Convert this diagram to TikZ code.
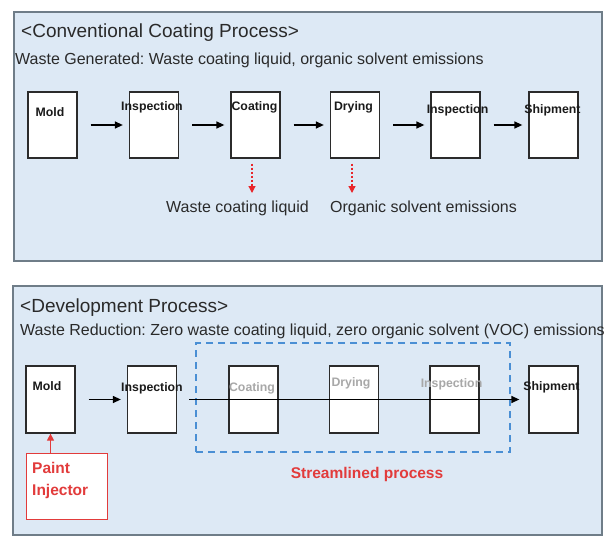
\documentclass[tikz,border=0pt]{standalone}
\usepackage{fontspec}
\setmainfont{Liberation Sans}
\usetikzlibrary{arrows.meta}
\frenchspacing
\definecolor{panelfill}{HTML}{DDE9F5}
\definecolor{panelborder}{HTML}{6F7D88}
\definecolor{boxborder}{HTML}{2B2B2B}
\definecolor{txtdark}{HTML}{2A2A2A}
\definecolor{lbldark}{HTML}{1A1A1A}
\definecolor{lblgray}{HTML}{A8A8A8}
\definecolor{wred}{HTML}{E8262B}
\definecolor{sred}{HTML}{E23B3B}
\definecolor{sblue}{HTML}{4A8FD4}
\begin{document}
\frenchspacing
\begin{tikzpicture}[x=1pt,y=-1pt,
  panel/.style={draw=panelborder, line width=1.8pt, fill=panelfill},
  titletext/.style={font=\fontsize{19}{22}\selectfont, text=txtdark, inner sep=0, anchor=west},
  subtext/.style={font=\fontsize{16}{19}\selectfont, text=txtdark, inner sep=0, anchor=west},
  stepbox/.style={draw=boxborder, line width=1.3pt, fill=white, minimum width=49pt, minimum height=66pt, inner sep=0},
  steplbl/.style={font=\fontsize{12.3}{14}\selectfont\bfseries, text=lbldark, inner sep=0},
  greylbl/.style={font=\fontsize{12.3}{14}\selectfont\bfseries, text=lblgray, inner sep=0},
  flowarr/.style={-{Triangle[length=8pt,width=7pt]}, line width=1.3pt, black},
  wastearr/.style={-{Triangle[length=7pt,width=7pt]}, line width=1.2pt, wred, dash pattern=on 2.5pt off 1.5pt},
  wastelbl/.style={font=\fontsize{16}{19}\selectfont, text=txtdark, inner sep=0},
  redlbl/.style={font=\fontsize{15.5}{22}\selectfont\bfseries, text=sred, inner sep=0}
]
\useasboundingbox (0,0) rectangle (612,548);
\fill[white] (0,0) rectangle (612,548);

% ---------- Top panel ----------
\draw[panel] (14,12) rectangle (602,261);
\node[titletext] (t1) at (21,33) {<Conventional Coating Process>};
\node[subtext] (s1) at (15,60) {Waste Generated: Waste coating liquid, organic solvent emissions};

\node[stepbox] (a1) at (52.5,125) {};
\node[stepbox] (a2) at (154,125) {};
\node[stepbox] (a3) at (255.5,125) {};
\node[stepbox] (a4) at (355,125) {};
\node[stepbox] (a5) at (455.5,125) {};
\node[stepbox] (a6) at (553.5,125) {};

\node[steplbl] (la1) at (50,112) {Mold};
\node[steplbl] (la2) at (152,107) {Inspection};
\node[steplbl] (la3) at (254.5,107) {Coating};
\node[steplbl] (la4) at (353.5,107) {Drying};
\node[steplbl] (la5) at (457.5,110) {Inspection};
\node[steplbl] (la6) at (552.5,110) {Shipment};

\draw[flowarr] ([xshift=13pt]a1.east) -- ([xshift=-6pt]a2.west);
\draw[flowarr] ([xshift=13pt]a2.east) -- ([xshift=-6pt]a3.west);
\draw[flowarr] ([xshift=13pt]a3.east) -- ([xshift=-6pt]a4.west);
\draw[flowarr] ([xshift=13pt]a4.east) -- ([xshift=-6pt]a5.west);
\draw[flowarr] ([xshift=13pt]a5.east) -- ([xshift=-6pt]a6.west);

\node[wastelbl] (w1) at (237.5,208) {Waste coating liquid};
\node[wastelbl] (w2) at (423.5,208) {Organic solvent emissions};
\coordinate (w1end) at (252,193);
\coordinate (w2end) at (352,193);
\draw[wastearr] ([yshift=-5pt]a3.south -| w1end) -- (w1end);
\draw[wastearr] ([yshift=-5pt]a4.south -| w2end) -- (w2end);

% ---------- Bottom panel ----------
\draw[panel] (13,286) rectangle (602,535);
\node[titletext] (t2) at (20,308) {<Development Process>};
\node[subtext] (s2) at (20,331) {Waste Reduction: Zero waste coating liquid, zero organic solvent (VOC) emissions};

\node[minimum width=314pt, minimum height=109pt, inner sep=0, draw=sblue, line width=1.8pt, dash pattern=on 7pt off 5pt] (stream) at (353,397.5) {};

\node[stepbox, minimum height=67pt] (b1) at (50.5,399.5) {};
\node[stepbox, minimum height=67pt] (b2) at (152,399.5) {};
\node[stepbox, minimum height=67pt] (b3) at (253.5,399.5) {};
\node[stepbox, minimum height=67pt] (b4) at (354,399.5) {};
\node[stepbox, minimum height=67pt] (b5) at (454.5,399.5) {};
\node[stepbox, minimum height=67pt] (b6) at (553.5,399.5) {};

\node[steplbl] (lb1) at (47,386) {Mold};
\node[steplbl] (lb2) at (152,388) {Inspection};
\node[greylbl] (lb3) at (252,388) {Coating};
\node[greylbl] (lb4) at (351,383) {Drying};
\node[greylbl] (lb5) at (451.5,384) {Inspection};
\node[steplbl] (lb6) at (551.5,387) {Shipment};

\draw[flowarr] ([xshift=13pt]b1.east) -- ([xshift=-6pt]b2.west);
\draw[flowarr] ([xshift=12pt]b2.east) -- ([xshift=-9pt]b6.west);

\node[redlbl] (sl) at (367,474) {Streamlined process};

\node[draw=sred, line width=1.3pt, fill=white, minimum width=81pt, minimum height=66pt, inner sep=0, anchor=north west] (pibox) at (26,453) {};
\node[redlbl, align=left, anchor=north west] (pitext) at (32,462.5) {Paint\\Injector};
\draw[-{Triangle[length=7pt,width=7pt]}, line width=1.3pt, sred] (b1.south |- pibox.north) -- (b1.south);

\end{tikzpicture}
\end{document}
